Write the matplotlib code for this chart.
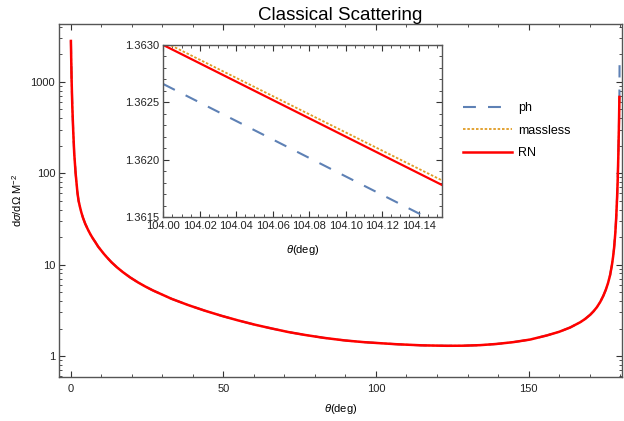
import numpy as np
import matplotlib.pyplot as plt
from matplotlib.ticker import MultipleLocator, LogLocator, NullFormatter, FormatStrFormatter

plt.rcParams['font.family'] = ['Liberation Sans', 'DejaVu Sans']
plt.rcParams['mathtext.fontset'] = 'custom'
plt.rcParams['mathtext.rm'] = 'Liberation Sans'
plt.rcParams['mathtext.it'] = 'Liberation Sans:italic'

# main curve, theta in degrees
theta = [0.1, 0.2, 0.33, 0.55, 0.85, 1.18, 1.64, 2.23, 2.6, 3.05, 3.5, 4.03,
         4.8, 5.77, 6.5, 7.3, 8.1, 9.04, 10.9, 12.1, 13.4, 15.2, 17.1, 19.5,
         22.1, 24.5, 27.0, 33.1, 38.5, 44.0, 49.5, 54.9, 60.4, 65.9, 71.3, 76.8,
         83.0, 89.9, 95.9, 101.0, 106.8, 115.0, 123.2, 128.5, 134.1, 139.5,
         145.0, 150.5, 156.0, 160.0, 163.6, 166.9, 168.5, 170.2, 171.3, 172.4,
         173.5, 174.5, 175.3, 176.0, 176.7, 177.3, 177.7, 178.0, 178.4, 178.7,
         179.0, 179.2, 179.4, 179.6, 179.75]
sigma_rn = [2790, 1780, 1050, 550, 295, 166, 100, 61.7, 50.1, 42.9, 37.4, 32.7,
            27.9, 23.8, 21.4, 19.3, 17.6, 15.7, 13.1, 11.8, 10.6, 9.33, 8.28, 7.24,
            6.38, 5.75, 5.21, 4.22, 3.61, 3.13, 2.75, 2.45, 2.20, 2.00, 1.83, 1.70,
            1.58, 1.48, 1.42, 1.384, 1.346, 1.309, 1.294, 1.297, 1.315, 1.355,
            1.419, 1.514, 1.68, 1.84, 2.05, 2.34, 2.54, 2.83, 3.09, 3.43,
            3.92, 4.57, 5.31, 6.24, 7.67, 9.89, 12.3, 15.1, 21.9, 32.4,
            55, 85, 158, 331, 682]
# the ph curve runs a little further up at the backward end
theta_ph_end = 179.8
sigma_ph_end = 1515

# zoomed window
inset_theta = [104.0, 104.153]
inset_ph = [1.36266, 1.36143]
inset_massless = [1.36303, 1.36182]
inset_rn = [1.36300, 1.36178]

labels = ['ph', 'massless', 'RN']
c_ph = '#5E81B5'
c_ml = '#E09C24'
c_rn = '#FF0000'
frame_col = '#555555'


def style_frame(ax):
    for s in ax.spines.values():
        s.set_color(frame_col)
        s.set_linewidth(1.0)
    ax.tick_params(which='both', direction='in', top=True, right=True,
                   color='#333333', labelcolor='#222222', labelsize=8, pad=3)
    ax.tick_params(which='major', length=4, width=0.8)
    ax.tick_params(which='minor', length=2.5, width=0.6)


fig = plt.figure(figsize=(6.24, 4.21), dpi=100)
ax = fig.add_axes([59.3 / 624, 1 - 376.7 / 421, (622 - 59.3) / 624, (376.7 - 24) / 421])

th_ph = theta + [theta_ph_end]
sg_ph = sigma_rn + [sigma_ph_end]
l1, = ax.plot(th_ph, sg_ph, color=c_ph, lw=1.5, dashes=(6.2, 5.8))
l2, = ax.plot(theta, sigma_rn, color=c_ml, lw=1.3, linestyle=(0, (1.4, 1.0)))
l3, = ax.plot(theta, sigma_rn, color=c_rn, lw=1.8)

ax.set_yscale('log')
ax.set_xlim(-3.7, 180.6)
ax.set_ylim(10 ** -0.226, 10 ** 3.631)
ax.xaxis.set_major_locator(MultipleLocator(50))
ax.xaxis.set_minor_locator(MultipleLocator(10))
ax.yaxis.set_major_locator(LogLocator(base=10, numticks=10))
ax.yaxis.set_minor_locator(LogLocator(base=10, subs=np.arange(2, 10), numticks=10))
ax.yaxis.set_minor_formatter(NullFormatter())
ax.yaxis.set_major_formatter(FormatStrFormatter('%g'))
style_frame(ax)
ax.tick_params(axis='x', which='both', pad=5)

ax.set_title('Classical Scattering', fontsize=13.5, pad=3)
ax.set_xlabel(r'$\theta$(deg)', fontsize=8, labelpad=6)
ax.set_ylabel(r'd$\sigma$/d$\Omega$ M$^{-2}$', fontsize=8, labelpad=5)

ax.legend([l1, l2, l3], labels, loc='upper left',
          bbox_to_anchor=(463 / 624, 1 - 102 / 421), bbox_transform=fig.transFigure,
          frameon=False, fontsize=9, handlelength=3.9, handletextpad=0.5,
          labelspacing=0.85, borderpad=0, borderaxespad=0)

# inset
axi = fig.add_axes([163.3 / 624, 1 - 217.3 / 421, (442.3 - 163.3) / 624, (217.3 - 45) / 421])
axi.plot(inset_theta, inset_ph, color=c_ph, lw=1.5, dashes=(6.2, 5.8))
axi.plot(inset_theta, inset_massless, color=c_ml, lw=1.3, linestyle=(0, (1.4, 1.0)))
axi.plot(inset_theta, inset_rn, color=c_rn, lw=1.6)
axi.set_xlim(104.0, 104.153)
axi.set_ylim(1.3615, 1.3630)
axi.xaxis.set_major_locator(MultipleLocator(0.02))
axi.xaxis.set_minor_locator(MultipleLocator(0.005))
axi.yaxis.set_major_locator(MultipleLocator(0.0005))
axi.yaxis.set_minor_locator(MultipleLocator(0.0001))
axi.xaxis.set_major_formatter(FormatStrFormatter('%.2f'))
axi.yaxis.set_major_formatter(FormatStrFormatter('%.4f'))
style_frame(axi)
axi.set_xlabel(r'$\theta$(deg)', fontsize=8, labelpad=8)

fig.savefig('out.png', dpi=100)
